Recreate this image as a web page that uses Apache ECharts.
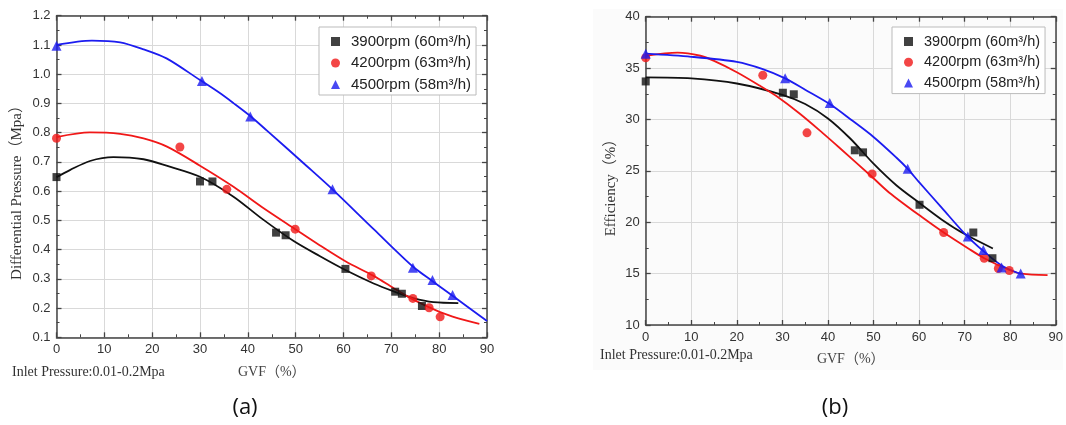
<!DOCTYPE html>
<html>
<head>
<meta charset="utf-8">
<script src="https://cdn.jsdelivr.net/npm/echarts@6/dist/echarts.min.js"></script>
<style>
  html, body { margin: 0; padding: 0; background: #fff; }
  #chart { width: 1066px; height: 425px; }
</style>
</head>
<body>
<div id="chart"></div>
<script>
// series names (legend)
const names = ["3900rpm (60m³/h)", "4200rpm (63m³/h)", "4500rpm (58m³/h)"];

// (a) differential pressure, measured points [GVF %, Mpa]
const dp3900 = [[0, 0.648], [30, 0.633], [32.6, 0.633], [45.9, 0.458], [47.9, 0.449], [60.4, 0.334], [70.8, 0.256], [72.2, 0.249], [76.4, 0.207]];
const dp4200 = [[0, 0.781], [25.8, 0.751], [35.6, 0.606], [49.9, 0.47], [65.8, 0.31], [74.5, 0.233], [77.9, 0.201], [80.2, 0.17]];
const dp4500 = [[0, 1.097], [30.4, 0.977], [40.5, 0.855], [57.7, 0.606], [74.5, 0.338], [78.6, 0.296], [82.8, 0.245]];

// (a) fitted curves
const dp3900Fit = [[0, 0.648], [2.8, 0.672], [7, 0.703], [11.9, 0.716], [18.2, 0.709], [23, 0.687], [30, 0.649], [37, 0.581], [43, 0.505], [49.5, 0.43], [55, 0.378], [60.4, 0.33], [66.3, 0.284], [70.5, 0.257], [74.6, 0.234], [78.8, 0.22], [84, 0.217]];
const dp4200Fit = [[0, 0.785], [7, 0.801], [13.3, 0.796], [18.2, 0.78], [23.1, 0.752], [30, 0.687], [37, 0.615], [43, 0.545], [49.9, 0.47], [55, 0.415], [60.4, 0.36], [66.3, 0.31], [70.5, 0.268], [74.6, 0.229], [80.2, 0.186], [84, 0.165], [88.4, 0.146]];
const dp4500Fit = [[0, 1.1], [7.4, 1.115], [13.3, 1.109], [18.2, 1.085], [23, 1.054], [30, 0.98], [34, 0.937], [37, 0.901], [40.5, 0.857], [44, 0.807], [52.3, 0.686], [57.7, 0.606], [66.3, 0.47], [74.5, 0.342], [78.6, 0.292], [82.8, 0.242], [90, 0.156]];

// (b) efficiency, measured points [GVF %, %]
const ef3900 = [[0, 33.7], [30.1, 32.6], [32.5, 32.45], [45.9, 27.0], [47.7, 26.8], [60.1, 21.7], [71.9, 19.0], [76.1, 16.5]];
const ef4200 = [[0, 36.0], [25.7, 34.3], [35.4, 28.7], [49.7, 24.7], [65.4, 19.0], [74.3, 16.5], [77.4, 15.5], [79.8, 15.3]];
const ef4500 = [[0, 36.4], [30.6, 34.0], [40.4, 31.6], [57.5, 25.2], [70.7, 18.6], [74.1, 17.3], [78.1, 15.6], [82.3, 15.0]];

// (b) fitted curves
const ef3900Fit = [[0, 34.1], [10, 34.0], [20, 33.5], [30, 32.4], [35, 31.5], [40, 30.1], [45, 28.1], [50, 25.7], [55, 23.6], [60, 21.9], [65, 20.25], [70, 18.85], [76.2, 17.45]];
const ef4200Fit = [[0, 36.2], [7, 36.5], [12, 36.2], [15, 35.7], [20, 34.6], [25, 33.3], [28.6, 32.3], [33.7, 30.6], [38.8, 28.7], [42.4, 27.3], [49.7, 24.4], [53.4, 22.9], [60.6, 20.5], [65.4, 19.0], [70.8, 17.45], [74.3, 16.5], [79.8, 15.35], [82.5, 15.0], [88.2, 14.85]];
const ef4500Fit = [[0, 36.4], [10, 36.1], [20, 35.6], [25.7, 34.9], [30.6, 34.0], [35, 32.9], [40.4, 31.5], [45, 30.0], [50, 28.3], [55, 26.3], [57.5, 25.2], [60, 23.9], [65, 21.4], [70, 18.9], [74.1, 17.2], [78.1, 15.8], [82.3, 14.96]];

const colors = ["#111111", "#f01818", "#1c1cf0"];
const symbols = ["rect", "circle", "triangle"];
const symbolSizes = [8, 9, 10];
const serif = "'Liberation Serif', 'Times New Roman', 'Noto Sans CJK SC', serif";

function xAx(grid, pos) {
  const bottom = pos === "bottom";
  return {
    type: "value", gridIndex: grid, position: pos, min: 0, max: 90, interval: 10,
    axisLine: { onZero: false, lineStyle: { color: "#444", width: 1.5 } },
    axisTick: { inside: true, length: 5, lineStyle: { color: "#444", width: 1.3 } },
    minorTick: { show: true, splitNumber: 2, length: 3, lineStyle: { color: "#444" } },
    axisLabel: { show: bottom, color: "#333", fontSize: 13, fontFamily: "Arial, 'Liberation Sans'", margin: 6 },
    splitLine: { show: bottom, lineStyle: { color: "#d9d9d9", width: 1 } }
  };
}
function yAx(grid, pos, min, max, interval, fmt) {
  const left = pos === "left";
  return {
    type: "value", gridIndex: grid, position: pos, min: min, max: max, interval: interval,
    axisLine: { onZero: false, lineStyle: { color: "#444", width: 1.5 } },
    axisTick: { inside: true, length: 5, lineStyle: { color: "#444", width: 1.3 } },
    minorTick: { show: true, splitNumber: 2, length: 3, lineStyle: { color: "#444" } },
    axisLabel: { show: left, color: "#333", fontSize: 13, fontFamily: "Arial, 'Liberation Sans'", margin: 6, formatter: fmt },
    splitLine: { show: left, lineStyle: { color: "#d9d9d9", width: 1 } }
  };
}

function fitLine(name, data, i, xi) {
  return {
    name: name, type: "line", xAxisIndex: xi, yAxisIndex: xi, data: data,
    smooth: 0.3, showSymbol: false, silent: true, z: 2,
    lineStyle: { color: colors[i], width: 1.8 }, itemStyle: { color: colors[i] }
  };
}
function points(data, i, xi) {
  return {
    name: names[i], type: "scatter", xAxisIndex: xi, yAxisIndex: xi, data: data,
    symbol: symbols[i], symbolSize: symbolSizes[i], z: 3,
    itemStyle: { color: colors[i] }
  };
}
function legendAt(left, top, gap, size) {
  return {
    left: left, top: top, orient: "vertical",
    data: names.map((n, i) => ({ name: n, icon: symbols[i] })),
    itemWidth: 9, itemHeight: 9, itemGap: gap,
    padding: [7, 5, 3, 12],
    borderColor: "#bbb", borderWidth: 1, backgroundColor: "#fff",
    selectedMode: false,
    textStyle: { fontSize: size, color: "#222", fontFamily: "Arial, 'Liberation Sans'", lineHeight: 15, padding: [0, 0, 0, 6] }
  };
}

const chart = echarts.init(document.getElementById("chart"));
chart.setOption({
  animation: false,
  backgroundColor: "#fff",
  grid: [
    { left: 56.5, top: 15.7, width: 430.5, height: 321.6 },
    { left: 645.7, top: 16.7, width: 412, height: 308.3 }
  ],
  xAxis: [
    Object.assign(xAx(0, "bottom"), { name: "GVF（%）", nameLocation: "middle", nameGap: 28, nameTextStyle: { fontFamily: serif, fontSize: 14, color: "#444" } }),
    xAx(0, "top"),
    Object.assign(xAx(1, "bottom"), { name: "GVF（%）", nameLocation: "middle", nameGap: 27, nameTextStyle: { fontFamily: serif, fontSize: 14, color: "#444" } }),
    xAx(1, "top")
  ],
  yAxis: [
    yAx(0, "left", 0.1, 1.2, 0.1, v => v.toFixed(1)),
    yAx(0, "right", 0.1, 1.2, 0.1),
    yAx(1, "left", 10, 40, 5),
    yAx(1, "right", 10, 40, 5)
  ],
  legend: [legendAt(319, 27, 6.5, 15), legendAt(892, 27, 5.8, 14.5)],
  graphic: [
    { type: "rect", z: -10, shape: { x: 593, y: 9, width: 470, height: 361 }, style: { fill: "#fbfbfb" } },
    { type: "text", x: 17.5, y: 189, rotation: Math.PI / 2, style: { text: "Differential Pressure（Mpa）", font: "15px " + serif, fill: "#333", align: "center", verticalAlign: "middle" } },
    { type: "text", x: 611.5, y: 184, rotation: Math.PI / 2, style: { text: "Efficiency（%）", font: "15px " + serif, fill: "#333", align: "center", verticalAlign: "middle" } },
    { type: "text", x: 12, y: 372, style: { text: "Inlet Pressure:0.01-0.2Mpa", font: "14px " + serif, fill: "#333", align: "left", verticalAlign: "middle" } },
    { type: "text", x: 600, y: 355, style: { text: "Inlet Pressure:0.01-0.2Mpa", font: "14px " + serif, fill: "#333", align: "left", verticalAlign: "middle" } },
    { type: "text", x: 245, y: 408, style: { text: "(a)", font: "22px 'Open Sans', 'Liberation Sans', sans-serif", fill: "#111", align: "center", verticalAlign: "middle" } },
    { type: "text", x: 835, y: 408, style: { text: "(b)", font: "22px 'Open Sans', 'Liberation Sans', sans-serif", fill: "#111", align: "center", verticalAlign: "middle" } }
  ],
  series: [
    fitLine("fit a 3900", dp3900Fit, 0, 0),
    fitLine("fit a 4200", dp4200Fit, 1, 0),
    fitLine("fit a 4500", dp4500Fit, 2, 0),
    points(dp3900, 0, 0),
    points(dp4200, 1, 0),
    points(dp4500, 2, 0),
    fitLine("fit b 3900", ef3900Fit, 0, 2),
    fitLine("fit b 4200", ef4200Fit, 1, 2),
    fitLine("fit b 4500", ef4500Fit, 2, 2),
    points(ef3900, 0, 2),
    points(ef4200, 1, 2),
    points(ef4500, 2, 2)
  ]
});
</script>
</body>
</html>
